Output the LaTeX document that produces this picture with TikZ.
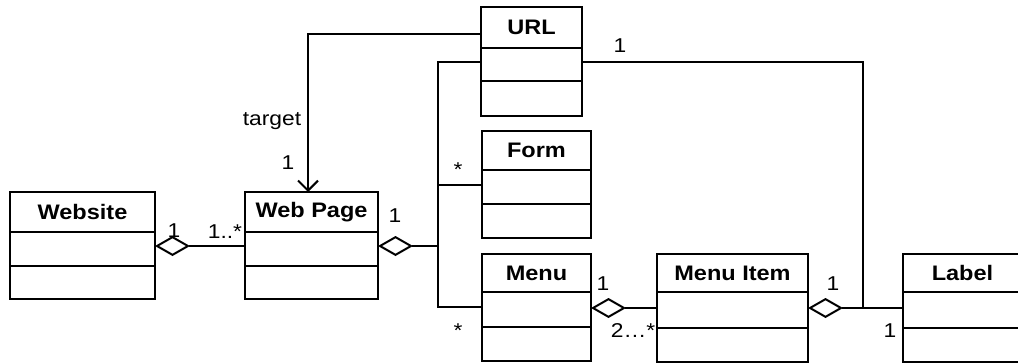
\documentclass[tikz,border=0pt]{standalone}
\usepackage{fontspec}
\setmainfont{Liberation Sans}
\newfontfamily\clsfont[FakeStretch=1.12]{Liberation Sans}
\newfontfamily\mulfont[FakeStretch=1.14]{Liberation Sans}
\usetikzlibrary{arrows.meta}
\tikzset{
  cbox/.style={draw, line width=1pt, inner sep=0pt, outer sep=0pt, rectangle},
  mult/.style={inner sep=0pt, outer sep=0pt, anchor=base, font=\mulfont\fontsize{10pt}{12pt}\selectfont},
  conn/.style={draw, line width=0.7pt},
  agg/.style={conn, arrows={Diamond[open,length=17.5pt,width=10pt,line width=1pt]-}},
  tgt/.style={draw, line width=1pt, arrows={-Straight Barb[length=5pt,width=10pt,line width=1pt]}},
}
\newcommand\umlclass[8]{%
  \node[cbox, anchor=north west, minimum width={(#3-#2)*0.5pt}, minimum height={(#5-#4)*0.5pt},
        font=\clsfont\bfseries\fontsize{10.5pt}{12pt}\selectfont] (#1) at (#2,#4) {#8};
  \node[cbox, anchor=north west, minimum width={(#3-#2)*0.5pt}, minimum height={(#6-#5)*0.5pt}] (#1-a) at (#2,#5) {};
  \node[cbox, anchor=north west, minimum width={(#3-#2)*0.5pt}, minimum height={(#7-#6)*0.5pt}] (#1-o) at (#2,#6) {};
}
\begin{document}
\begin{tikzpicture}[x=0.5pt, y=-0.5pt]
\useasboundingbox (0,0) rectangle (1018,364);
% classes
\umlclass{website}{10}{155}{192}{232}{266}{299}{Website}
\umlclass{webpage}{245}{378}{192}{232}{266}{299}{Web Page}
\umlclass{url}{481}{582}{7}{48}{81}{116}{URL}
\umlclass{form}{482}{591}{131}{170}{204}{238}{Form}
\umlclass{menu}{482}{591}{254}{292}{327}{361}{Menu}
\umlclass{menuitem}{657}{808}{254}{292}{328}{362}{Menu Item}
\umlclass{label}{903}{1022}{254}{292}{328}{362}{Label}
% junction points
\coordinate (jtop) at (438,62);
\coordinate (jform) at (438,185);
\coordinate (jmid) at (438,246);
\coordinate (jbot) at (438,307);
\coordinate (tcorner) at (308,34);
\coordinate (rtop) at (863,62);
\coordinate (jlab) at (863,308);
% connectors
\draw[conn] (url-a.west |- jtop) -- (jtop) -- (jbot) -- (menu-a.west |- jbot);
\draw[conn] (jform) -- (form-a.west |- jform);
\draw[agg] (webpage-a.east |- jmid) -- (jmid);
\draw[agg] (website-a.east |- jmid) -- (webpage-a.west |- jmid);
\draw[tgt] (url.west |- tcorner) -- (tcorner) -- (tcorner |- webpage.north);
\draw[conn] (url-a.east |- rtop) -- (rtop) -- (jlab);
\draw[agg] (menuitem-a.east |- jlab) -- (label-a.west |- jlab);
\draw[agg] (menu-a.east |- jlab) -- (menuitem-a.west |- jlab);
% labels
\node[mult] (m1) at (174,237) {1};
\node[mult] (m2) at (225,238) {1..*};
\node[mult] (m3) at (395,222) {1};
\node[mult] (m4) at (272,125) {target};
\node[mult] (m5) at (288,169) {1};
\node[mult] (m6) at (620,52) {1};
\node[mult] (m7) at (458,176) {*};
\node[mult] (m8) at (458,337) {*};
\node[mult] (m9) at (603,290) {1};
\node[mult] (m10) at (633,337) {2…*};
\node[mult] (m11) at (833,290) {1};
\node[mult] (m12) at (890,337) {1};
\end{tikzpicture}
\end{document}
